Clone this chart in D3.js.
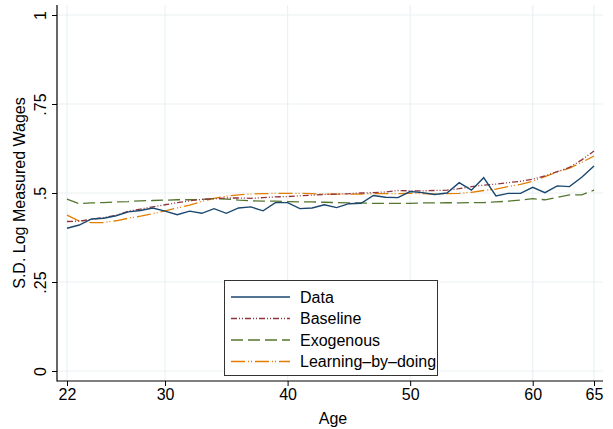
<!DOCTYPE html>
<html>
<head>
<meta charset="utf-8">
<script src="https://d3js.org/d3.v7.min.js"></script>
<style>
  body { margin: 0; background: #fff; }
  svg { display: block; font-family: "Liberation Sans", Arial, sans-serif; }
</style>
</head>
<body>
<svg class="chart" width="613" height="429"></svg>
<script>

// ages on the x axis
var ages = d3.range(22, 66);

// series values, one per age
var dataSeries = [.401, .410, .427, .429, .436, .447, .451, .458, .449, .439, .449,
    .443, .456, .443, .458, .461, .450, .473, .473, .456, .458, .467, .459, .470,
    .471, .493, .488, .487, .504, .501, .496, .500, .529, .508, .543, .492, .499,
    .499, .516, .501, .520, .518, .544, .576];

var baselineSeries = [.420, .421, .426, .431, .437, .449, .455, .461, .467, .473, .478,
    .482, .484, .486, .486, .485, .487, .489, .490, .492, .494, .496, .497, .498,
    .500, .501, .503, .507, .506, .506, .507, .508, .512, .518, .522, .525, .529,
    .533, .539, .548, .560, .572, .593, .618];

var exogenousSeries = [.483, .470, .472, .473, .475, .476, .478, .479, .480, .481, .481,
    .482, .484, .483, .480, .478, .477, .477, .476, .475, .475, .474, .473, .472,
    .472, .471, .471, .471, .471, .472, .472, .473, .472, .473, .473, .475, .477,
    .480, .484, .481, .488, .495, .495, .508];

var learningSeries = [.438, .421, .417, .417, .422, .429, .435, .442, .450, .458, .466,
    .476, .485, .491, .495, .497, .498, .499, .499, .499, .498, .497, .497, .497,
    .497, .498, .498, .498, .499, .498, .497, .498, .499, .502, .507, .511, .518,
    .524, .533, .546, .559, .570, .586, .604];

// tick labels
var xTicks = [22, 30, 40, 50, 60, 65];
var yTicks = [0, .25, .5, .75, 1];
var yTickLabels = ["0", ".25", ".5", ".75", "1"];

var seriesNames = ["Data", "Baseline", "Exogenous", "Learning\u2013by\u2013doing"];

// stata s2color style lines
var lineStyles = [
    {color: "#1a476f", dash: null},
    {color: "#90353b", dash: "6,2,1,2,1,2"},
    {color: "#55752f", dash: "12,5"},
    {color: "#e37e00", dash: "14,3,1,2,1,3"}
];

var fontSize = 16;

var svg = d3.select(".chart");

var x = d3.scaleLinear()
    .domain([22, 65])
    .range([67, 594]);

var y = d3.scaleLinear()
    .domain([0, 1])
    .range([371, 15]);

var plotLeft = 57, plotRight = 603, plotTop = 5, plotBottom = 381;

drawGrid();
drawLines();
drawAxes();
drawLegend();

// light grid lines at every tick
function drawGrid() {
    var grid = svg.append("g")
        .attr("stroke", "#eaf2f3")
        .attr("stroke-width", 1.2);

    grid.selectAll("line.h")
        .data(yTicks).enter()
        .append("line")
        .attr("x1", plotLeft)
        .attr("x2", plotRight)
        .attr("y1", function(d) { return y(d); })
        .attr("y2", function(d) { return y(d); });

    grid.selectAll("line.v")
        .data(xTicks).enter()
        .append("line")
        .attr("y1", plotTop)
        .attr("y2", plotBottom)
        .attr("x1", function(d) { return x(d); })
        .attr("x2", function(d) { return x(d); });
}

function drawLines() {
    var allSeries = [dataSeries, baselineSeries, exogenousSeries, learningSeries];

    var line = d3.line()
        .x(function(d, i) { return x(ages[i]); })
        .y(function(d) { return y(d); });

    // draw in reverse so the data line sits on top
    for (var k = allSeries.length - 1; k >= 0; k--) {
        svg.append("path")
            .datum(allSeries[k])
            .attr("d", line)
            .attr("fill", "none")
            .attr("stroke", lineStyles[k].color)
            .attr("stroke-width", k == 0 ? 1.4 : 1.3)
            .attr("stroke-dasharray", lineStyles[k].dash);
    }
}

function drawAxes() {
    // x axis
    var xAxis = svg.append("g")
        .attr("transform", "translate(0," + plotBottom + ")")
        .call(d3.axisBottom(x).tickValues(xTicks).tickSize(5).tickPadding(3).tickFormat(d3.format("d")));
    xAxis.select(".domain").remove();
    xAxis.selectAll("text").attr("font-size", fontSize).attr("fill", "#000")
        .attr("font-family", "Liberation Sans, Arial, sans-serif");

    // y axis, labels turned like stata does
    var yAxis = svg.append("g")
        .attr("transform", "translate(" + plotLeft + ",0)")
        .call(d3.axisLeft(y).tickValues(yTicks).tickSize(5)
            .tickFormat(function(d, i) { return yTickLabels[i]; }));
    yAxis.select(".domain").remove();
    yAxis.selectAll("text")
        .attr("font-size", fontSize)
        .attr("fill", "#000")
        .attr("font-family", "Liberation Sans, Arial, sans-serif")
        .attr("x", null).attr("dy", null)
        .attr("text-anchor", "middle")
        .attr("transform", "translate(-11,0) rotate(-90)");

    svg.selectAll(".tick line").attr("stroke", "#000");

    // axis lines
    svg.append("line")
        .attr("x1", plotLeft).attr("x2", plotLeft)
        .attr("y1", plotTop).attr("y2", plotBottom + 0.5)
        .attr("stroke", "#000").attr("stroke-width", 1.2);
    svg.append("line")
        .attr("x1", plotLeft).attr("x2", plotRight)
        .attr("y1", plotBottom).attr("y2", plotBottom)
        .attr("stroke", "#000").attr("stroke-width", 1.2);

    // axis titles
    svg.append("text")
        .attr("x", (plotLeft + plotRight) / 2 + 3)
        .attr("y", 424)
        .attr("text-anchor", "middle")
        .attr("font-size", fontSize)
        .text("Age");

    svg.append("text")
        .attr("transform", "translate(25," + y(.5) + ") rotate(-90)")
        .attr("text-anchor", "middle")
        .attr("font-size", fontSize)
        .text("S.D. Log Measured Wages");
}

function drawLegend() {
    var legend = svg.append("g");

    legend.append("rect")
        .attr("x", 224.5)
        .attr("y", 280.5)
        .attr("width", 213)
        .attr("height", 95)
        .attr("fill", "#fff")
        .attr("stroke", "#333")
        .attr("stroke-width", 1);

    var rows = legend.selectAll("g.row")
        .data(seriesNames).enter()
        .append("g")
        .attr("transform", function(d, i) { return "translate(0," + (297 + i * 21.5) + ")"; });

    rows.append("line")
        .attr("x1", 231)
        .attr("x2", 290)
        .attr("stroke", function(d, i) { return lineStyles[i].color; })
        .attr("stroke-width", 1.3)
        .attr("stroke-dasharray", function(d, i) { return lineStyles[i].dash; });

    rows.append("text")
        .attr("x", 300)
        .attr("dy", "0.36em")
        .attr("font-size", fontSize)
        .text(function(d) { return d; });
}
</script>
</body>
</html>
